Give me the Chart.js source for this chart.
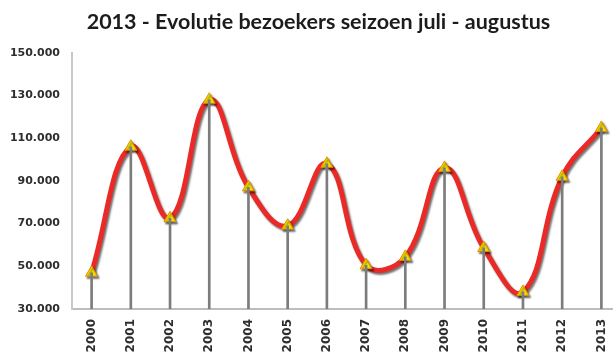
<!DOCTYPE html>
<html>
<head>
<meta charset="utf-8">
<title>Evolutie bezoekers</title>
<script src="https://cdn.jsdelivr.net/npm/chart.js@4.4.1/dist/chart.umd.min.js"></script>
<style>
  html, body { margin: 0; padding: 0; background: #fff; overflow: hidden; }
  #wrap { width: 629px; height: 356px; }
</style>
</head>
<body>
<div id="wrap"><canvas id="myChart" width="629" height="356"></canvas></div>
<script>
// seasons july - august
var years = ['2000', '2001', '2002', '2003', '2004', '2005', '2006', '2007', '2008', '2009', '2010', '2011', '2012', '2013'];
var visitors = [47000, 106000, 72500, 128000, 87000, 69000, 98000, 50500, 54400, 96100, 58600, 38000, 91900, 114800];

var yMin = 30000;
var yMax = 150000;
var yStep = 20000;

var chartTitle = '2013 - Evolutie bezoekers seizoen juli - augustus';

// 150000 -> "150.000"
function dotThousands(v) {
    return String(v).replace(/\B(?=(\d{3})+(?!\d))/g, '.');
}

// soft shadow under the red line
var lineShadow = {
    id: 'lineShadow',
    beforeDatasetDraw: function(chart, args) {
        if (args.meta.type !== 'line') return;
        var ctx = chart.ctx;
        ctx.save();
        ctx.shadowColor = 'rgba(0,0,0,0.55)';
        ctx.shadowBlur = 2;
        ctx.shadowOffsetX = 1.5;
        ctx.shadowOffsetY = 2;
    },
    afterDatasetDraw: function(chart, args) {
        if (args.meta.type !== 'line') return;
        chart.ctx.restore();
    }
};

var ctx = document.getElementById('myChart').getContext('2d');
var chart = new Chart(ctx, {
    type: 'bar',
    data: {
        labels: years,
        datasets: [{
            // thin drop lines from each point to the axis
            type: 'bar',
            data: visitors,
            backgroundColor: '#7c7c7c',
            barThickness: 2,
            base: yMin,
            order: 0
        }, {
            type: 'line',
            data: visitors,
            borderColor: '#ea2a26',
            borderWidth: 5,
            tension: 0.42,
            fill: false,
            pointStyle: 'triangle',
            pointRadius: 7,
            pointBackgroundColor: '#f4e400',
            pointBorderColor: '#e88a00',
            pointBorderWidth: 1,
            order: 1
        }]
    },
    options: {
        responsive: false,
        animation: false,
        layout: {
            padding: { left: 8, right: 0, top: 0, bottom: 0 }
        },
        plugins: {
            legend: { display: false },
            tooltip: { enabled: false },
            title: {
                display: true,
                text: chartTitle,
                color: '#1c1c1c',
                font: { family: 'Lato', size: 21.5, weight: 'bold' },
                padding: { top: 9, bottom: 18 }
            }
        },
        scales: {
            x: {
                offset: true,
                grid: { display: false, drawTicks: false },
                border: { display: true, color: '#bdbdbd', width: 2 },
                ticks: {
                    minRotation: 90,
                    maxRotation: 90,
                    padding: 10,
                    color: '#2e2e2e',
                    font: { family: 'DejaVu Sans', size: 12, weight: 'bold' }
                },
                afterFit: function(scale) { scale.height = 47; }
            },
            y: {
                min: yMin,
                max: yMax,
                grid: { display: false, drawTicks: false },
                border: { display: true, color: '#c8c8c8', width: 2 },
                ticks: {
                    stepSize: yStep,
                    padding: 12,
                    color: '#2e2e2e',
                    font: { family: 'DejaVu Sans', size: 11, weight: 'bold' },
                    callback: function(v) { return dotThousands(v); }
                },
                afterFit: function(scale) { scale.width = 64; }
            }
        }
    },
    plugins: [lineShadow]
});
</script>
</body>
</html>
